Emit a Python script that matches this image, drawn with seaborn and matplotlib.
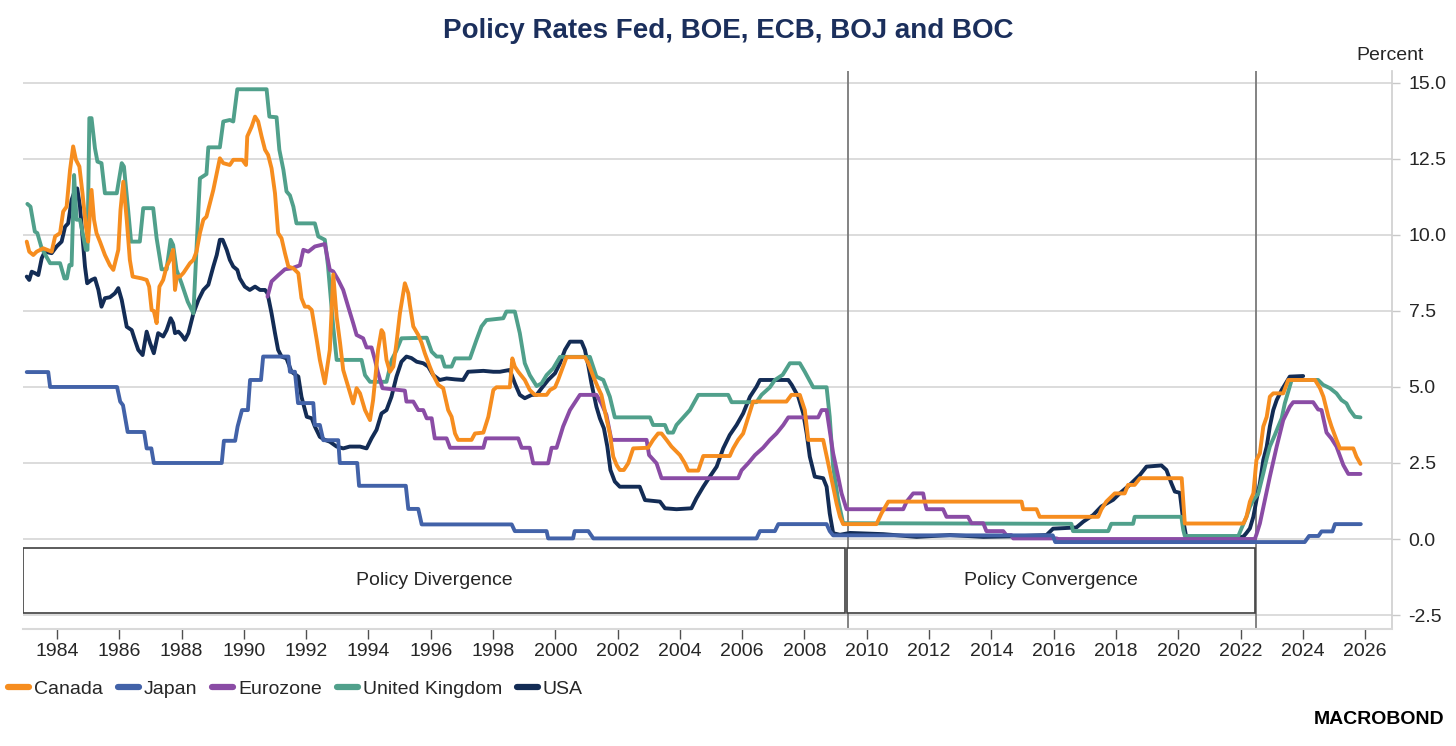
#Policy rates line chart
import numpy as np
import pandas as pd
import matplotlib.pyplot as plt
from matplotlib.patches import Rectangle
from matplotlib.lines import Line2D
import seaborn as sns

# Data
canada_years = [1983.03, 1983.11, 1983.24, 1983.35, 1983.56, 1983.83, 1983.94, 1984.10, 1984.20, 1984.31,
                1984.42, 1984.52, 1984.61, 1984.72, 1984.82, 1984.93, 1985.00, 1985.11, 1985.19, 1985.27,
                1985.38, 1985.54, 1985.70, 1985.81, 1985.97, 1986.04, 1986.13, 1986.24, 1986.34, 1986.43,
                1986.72, 1986.88, 1986.96, 1987.04, 1987.11, 1987.20, 1987.29, 1987.41, 1987.52, 1987.63,
                1987.73, 1987.79, 1987.85, 1987.95, 1988.06, 1988.16, 1988.27, 1988.38, 1988.48, 1988.59,
                1988.70, 1988.80, 1988.91, 1989.02, 1989.13, 1989.23, 1989.34, 1989.55, 1989.66, 1989.95,
                1990.07, 1990.11, 1990.25, 1990.36, 1990.46, 1990.57, 1990.68, 1990.78, 1990.89, 1991.00,
                1991.10, 1991.21, 1991.32, 1991.43, 1991.59, 1991.75, 1991.85, 1991.96, 1992.07, 1992.18,
                1992.34, 1992.44, 1992.60, 1992.76, 1992.87, 1992.98, 1993.09, 1993.19, 1993.35, 1993.51,
                1993.62, 1993.73, 1993.89, 1994.05, 1994.15, 1994.31, 1994.42, 1994.48, 1994.58, 1994.69,
                1994.80, 1994.90, 1995.01, 1995.17, 1995.28, 1995.33, 1995.44, 1995.60, 1995.71, 1995.81,
                1995.97, 1996.08, 1996.24, 1996.40, 1996.56, 1996.67, 1996.78, 1996.88, 1997.31, 1997.42,
                1997.69, 1997.85, 1998.01, 1998.11, 1998.54, 1998.62, 1998.70, 1998.81, 1999.02, 1999.18,
                1999.34, 1999.72, 1999.83, 1999.99, 2000.09, 2000.25, 2000.36, 2000.95, 2001.06, 2001.22,
                2001.38, 2001.48, 2001.64, 2001.75, 2001.86, 2001.97, 2002.07, 2002.20, 2002.34, 2002.50,
                2002.98, 2003.14, 2003.30, 2003.41, 2003.57, 2003.73, 2004.00, 2004.16, 2004.27, 2004.59,
                2004.75, 2005.60, 2005.71, 2005.87, 2006.03, 2006.19, 2006.35, 2007.42, 2007.58, 2007.85,
                2008.01, 2008.12, 2008.60, 2008.76, 2008.92, 2009.03, 2009.14, 2009.24, 2010.31, 2010.47,
                2010.69, 2014.97, 2015.02, 2015.45, 2015.55, 2017.43, 2017.53, 2017.69, 2017.96, 2018.28,
                2018.39, 2018.60, 2018.77, 2020.11, 2020.16, 2020.21, 2022.09, 2022.19, 2022.30, 2022.41,
                2022.51, 2022.62, 2022.73, 2022.84, 2022.94, 2023.05, 2023.37, 2023.53, 2024.39, 2024.55,
                2024.66, 2024.82, 2024.92, 2025.08, 2025.19, 2025.62, 2025.72, 2025.85]
canada_vals = [9.78, 9.45, 9.34, 9.45, 9.56, 9.45, 9.95, 10.06, 10.77, 10.93,
               12.14, 12.91, 12.47, 12.25, 11.37, 10.27, 9.78, 11.48, 10.50, 10.06,
               9.78, 9.34, 9.00, 8.85, 9.51, 10.82, 11.75, 10.50, 9.18, 8.63,
               8.57, 8.52, 8.30, 7.53, 7.50, 7.10, 8.30, 8.52, 8.96, 9.18,
               9.51, 8.19, 8.63, 8.63, 8.75, 8.90, 9.07, 9.18, 9.45, 10.06,
               10.50, 10.60, 11.04, 11.48, 12.03, 12.52, 12.36, 12.30, 12.47, 12.47,
               12.30, 13.24, 13.56, 13.89, 13.73, 13.24, 12.80, 12.63, 12.19, 11.37,
               10.06, 9.89, 9.40, 8.96, 8.90, 8.74, 7.92, 7.64, 7.64, 7.53,
               6.55, 5.89, 5.12, 6.22, 8.70, 7.30, 6.44, 5.56, 5.01, 4.46,
               4.96, 4.79, 4.24, 3.91, 4.57, 6.22, 6.87, 6.77, 5.89, 5.50,
               5.67, 6.44, 7.42, 8.41, 8.08, 7.70, 6.99, 6.71, 6.44, 6.11,
               5.67, 5.39, 5.07, 4.96, 4.24, 4.02, 3.47, 3.26, 3.26, 3.47,
               3.50, 4.02, 4.90, 4.99, 4.99, 5.94, 5.67, 5.50, 5.23, 4.90,
               4.74, 4.74, 4.90, 4.99, 5.23, 5.67, 5.98, 5.98, 5.78, 5.34,
               4.96, 4.74, 3.97, 3.47, 2.71, 2.43, 2.27, 2.27, 2.49, 2.98,
               3.00, 3.26, 3.47, 3.47, 3.26, 3.04, 2.76, 2.49, 2.25, 2.25,
               2.73, 2.73, 2.98, 3.26, 3.47, 4.00, 4.52, 4.52, 4.74, 4.74,
               4.24, 3.26, 3.26, 2.49, 1.72, 1.17, 0.73, 0.49, 0.49, 0.84,
               1.23, 1.23, 0.98, 0.98, 0.73, 0.73, 0.97, 1.23, 1.50, 1.50,
               1.78, 1.78, 2.00, 2.00, 1.28, 0.51, 0.51, 0.73, 1.23, 1.50,
               2.60, 2.82, 3.70, 4.02, 4.68, 4.79, 4.79, 5.23, 5.23, 4.96,
               4.68, 4.02, 3.70, 3.26, 2.98, 2.98, 2.71, 2.47]

japan_years = [1983.03, 1983.72, 1983.78, 1985.93, 1986.03, 1986.12, 1986.27, 1986.80, 1986.88, 1987.03,
               1987.11, 1989.29, 1989.36, 1989.72, 1989.80, 1989.94, 1990.13, 1990.20, 1990.55, 1990.62,
               1991.43, 1991.48, 1991.64, 1991.74, 1992.23, 1992.28, 1992.44, 1992.55, 1993.03, 1993.08,
               1993.64, 1993.70, 1995.20, 1995.28, 1995.60, 1995.71, 1998.60, 1998.70, 1999.72, 1999.77,
               2000.57, 2000.62, 2001.06, 2001.22, 2006.46, 2006.57, 2007.05, 2007.16, 2008.71, 2008.81,
               2008.92, 2015.97, 2016.05, 2024.06, 2024.20, 2024.50, 2024.60, 2024.95, 2025.03, 2025.86]
japan_vals = [5.49, 5.49, 5.00, 5.00, 4.52, 4.40, 3.52, 3.52, 2.98, 2.98,
              2.50, 2.50, 3.23, 3.23, 3.70, 4.24, 4.24, 5.23, 5.23, 6.00,
              6.00, 5.50, 5.50, 4.47, 4.47, 3.75, 3.75, 3.25, 3.25, 2.50,
              2.50, 1.75, 1.75, 0.99, 0.99, 0.48, 0.48, 0.26, 0.26, 0.02,
              0.02, 0.26, 0.26, 0.02, 0.02, 0.26, 0.26, 0.49, 0.49, 0.26,
              0.12, 0.12, -0.10, -0.10, 0.10, 0.10, 0.25, 0.25, 0.49, 0.49]

euro_years = [1990.76, 1990.89, 1991.11, 1991.32, 1991.53, 1991.80, 1991.91, 1992.07, 1992.28, 1992.60,
              1992.76, 1992.87, 1993.03, 1993.19, 1993.35, 1993.51, 1993.62, 1993.83, 1993.94, 1994.10,
              1994.21, 1994.30, 1994.45, 1995.17, 1995.22, 1995.44, 1995.60, 1995.76, 1995.87, 1996.03,
              1996.13, 1996.51, 1996.62, 1997.69, 1997.77, 1998.81, 1998.92, 1999.18, 1999.29, 1999.77,
              1999.88, 2000.04, 2000.25, 2000.47, 2000.79, 2001.32, 2001.48, 2001.64, 2001.80, 2002.93,
              2003.01, 2003.25, 2003.41, 2005.87, 2005.98, 2006.19, 2006.41, 2006.67, 2006.89, 2007.10,
              2007.32, 2007.48, 2008.44, 2008.55, 2008.71, 2008.92, 2009.08, 2009.19, 2009.35, 2011.17,
              2011.28, 2011.49, 2011.81, 2011.86, 2011.92, 2012.45, 2012.56, 2013.25, 2013.36, 2013.74,
              2013.84, 2014.38, 2014.48, 2014.64, 2014.70, 2016.09, 2016.15, 2022.46, 2022.52, 2022.62,
              2022.78, 2022.94, 2023.16, 2023.37, 2023.58, 2023.69, 2024.33, 2024.49, 2024.60, 2024.76,
              2024.92, 2025.08, 2025.30, 2025.46, 2025.85]
euro_vals = [7.97, 8.47, 8.68, 8.87, 8.90, 9.00, 9.51, 9.45, 9.62, 9.70,
             8.85, 8.80, 8.52, 8.19, 7.64, 7.10, 6.71, 6.60, 6.30, 6.30,
             5.89, 5.50, 4.96, 4.88, 4.52, 4.52, 4.24, 4.24, 3.97, 3.97,
             3.31, 3.31, 3.00, 3.00, 3.31, 3.31, 3.00, 3.00, 2.49, 2.49,
             3.00, 3.00, 3.70, 4.24, 4.74, 4.74, 4.46, 4.08, 3.26, 3.26,
             2.76, 2.49, 2.00, 2.00, 2.26, 2.49, 2.76, 3.00, 3.26, 3.47,
             3.75, 4.00, 4.00, 4.24, 4.24, 2.82, 2.05, 1.50, 0.98, 0.98,
             1.23, 1.50, 1.50, 1.23, 0.98, 0.98, 0.73, 0.73, 0.52, 0.52,
             0.26, 0.26, 0.13, 0.13, 0.02, 0.02, 0.00, 0.00, 0.18, 0.51,
             1.28, 2.05, 3.04, 3.91, 4.35, 4.50, 4.50, 4.26, 4.24, 3.50,
             3.30, 3.04, 2.43, 2.14, 2.14]

uk_years = [1983.05, 1983.15, 1983.29, 1983.37, 1983.51, 1983.78, 1984.10, 1984.24, 1984.32, 1984.40,
            1984.47, 1984.55, 1984.63, 1984.74, 1984.93, 1984.98, 1985.04, 1985.11, 1985.22, 1985.30,
            1985.43, 1985.54, 1985.92, 1986.08, 1986.15, 1986.29, 1986.38, 1986.66, 1986.77, 1987.09,
            1987.20, 1987.36, 1987.52, 1987.65, 1987.73, 1987.84, 1988.00, 1988.20, 1988.38, 1988.59,
            1988.80, 1988.86, 1989.23, 1989.34, 1989.55, 1989.66, 1989.79, 1990.73, 1990.82, 1991.05,
            1991.14, 1991.27, 1991.37, 1991.48, 1991.59, 1991.69, 1992.28, 1992.39, 1992.60, 1992.70,
            1992.87, 1992.98, 1993.78, 1993.89, 1994.05, 1994.58, 1994.75, 1994.90, 1995.06, 1995.87,
            1996.03, 1996.19, 1996.35, 1996.45, 1996.67, 1996.78, 1997.26, 1997.47, 1997.63, 1997.79,
            1998.33, 1998.43, 1998.70, 1998.86, 1999.02, 1999.18, 1999.40, 1999.56, 1999.72, 1999.93,
            2000.15, 2001.11, 2001.32, 2001.54, 2001.75, 2001.91, 2003.04, 2003.14, 2003.52, 2003.62,
            2003.78, 2003.89, 2004.11, 2004.32, 2004.59, 2005.55, 2005.66, 2006.46, 2006.62, 2006.89,
            2007.05, 2007.30, 2007.53, 2007.85, 2008.01, 2008.28, 2008.71, 2008.81, 2008.92, 2009.08,
            2009.24, 2016.57, 2016.62, 2017.75, 2017.85, 2018.55, 2018.60, 2020.10, 2020.16, 2020.21,
            2021.93, 2022.03, 2022.19, 2022.30, 2022.41, 2022.57, 2022.73, 2022.84, 2022.94, 2023.10,
            2023.21, 2023.32, 2023.42, 2023.53, 2023.64, 2024.49, 2024.65, 2024.87, 2025.08, 2025.24,
            2025.40, 2025.51, 2025.67, 2025.85]
uk_vals = [11.02, 10.93, 10.11, 10.06, 9.56, 9.07, 9.07, 8.57, 8.57, 9.01,
           9.00, 11.97, 10.50, 10.50, 9.51, 9.51, 13.84, 13.84, 12.85, 12.41,
           12.36, 11.37, 11.37, 12.36, 12.25, 10.77, 9.78, 9.78, 10.88, 10.88,
           9.89, 8.87, 8.87, 9.84, 9.67, 8.85, 8.41, 7.80, 7.42, 11.86,
           12.00, 12.88, 12.88, 13.73, 13.78, 13.73, 14.79, 14.79, 13.89, 13.87,
           12.80, 12.14, 11.43, 11.30, 10.93, 10.38, 10.38, 9.95, 9.84, 9.00,
           6.98, 5.89, 5.89, 5.39, 5.17, 5.17, 5.90, 6.20, 6.60, 6.62,
           6.16, 6.00, 6.00, 5.67, 5.67, 5.94, 5.94, 6.55, 6.99, 7.20,
           7.26, 7.48, 7.48, 6.77, 5.78, 5.39, 5.03, 5.12, 5.39, 5.61,
           5.99, 5.99, 5.34, 5.23, 4.68, 4.00, 4.00, 3.75, 3.75, 3.50,
           3.50, 3.75, 4.00, 4.24, 4.74, 4.74, 4.50, 4.50, 4.74, 4.99,
           5.23, 5.40, 5.78, 5.78, 5.50, 4.99, 4.99, 4.02, 2.38, 1.28,
           0.52, 0.50, 0.26, 0.26, 0.50, 0.50, 0.73, 0.73, 0.30, 0.10,
           0.10, 0.35, 0.73, 1.06, 1.28, 1.50, 2.16, 2.65, 3.04, 3.42,
           3.70, 3.97, 4.46, 4.85, 5.23, 5.23, 5.07, 4.96, 4.79, 4.57,
           4.46, 4.24, 4.02, 4.00]

usa_years = [1983.03, 1983.11, 1983.19, 1983.30, 1983.40, 1983.51, 1983.61, 1983.83, 1983.99, 1984.15,
             1984.26, 1984.36, 1984.47, 1984.58, 1984.65, 1984.74, 1984.82, 1984.90, 1984.97, 1985.11,
             1985.22, 1985.33, 1985.43, 1985.54, 1985.70, 1985.86, 1985.97, 1986.08, 1986.24, 1986.40,
             1986.50, 1986.61, 1986.75, 1986.88, 1986.99, 1987.11, 1987.25, 1987.41, 1987.52, 1987.65,
             1987.73, 1987.79, 1987.90, 1988.00, 1988.11, 1988.22, 1988.38, 1988.54, 1988.70, 1988.86,
             1989.02, 1989.13, 1989.23, 1989.32, 1989.45, 1989.55, 1989.66, 1989.79, 1989.87, 1990.03,
             1990.19, 1990.36, 1990.52, 1990.68, 1990.76, 1990.89, 1991.00, 1991.10, 1991.21, 1991.37,
             1991.53, 1991.75, 1991.85, 1992.02, 1992.18, 1992.28, 1992.44, 1992.60, 1992.76, 1992.98,
             1993.19, 1993.40, 1993.73, 1993.94, 1994.10, 1994.26, 1994.42, 1994.58, 1994.74, 1994.90,
             1995.06, 1995.22, 1995.38, 1995.55, 1995.76, 1995.92, 1996.08, 1996.29, 1996.51, 1996.78,
             1997.04, 1997.20, 1997.69, 1998.01, 1998.22, 1998.54, 1998.70, 1998.86, 1999.02, 1999.24,
             1999.40, 1999.56, 1999.77, 1999.99, 2000.15, 2000.31, 2000.47, 2000.84, 2000.95, 2001.06,
             2001.16, 2001.32, 2001.43, 2001.56, 2001.67, 2001.77, 2001.91, 2002.07, 2002.71, 2002.88,
             2003.36, 2003.52, 2003.89, 2004.37, 2004.53, 2004.75, 2004.96, 2005.18, 2005.39, 2005.60,
             2005.82, 2006.03, 2006.25, 2006.46, 2006.57, 2007.48, 2007.59, 2007.80, 2007.96, 2008.07,
             2008.17, 2008.33, 2008.60, 2008.71, 2008.81, 2008.92, 2009.14, 2009.46, 2010.53, 2011.60,
             2012.67, 2013.74, 2014.81, 2015.77, 2015.98, 2016.73, 2016.95, 2017.27, 2017.53, 2017.91,
             2018.12, 2018.44, 2018.77, 2018.98, 2019.46, 2019.62, 2019.78, 2019.89, 2020.05, 2020.16,
             2020.26, 2021.97, 2022.09, 2022.19, 2022.30, 2022.41, 2022.51, 2022.62, 2022.73, 2022.84,
             2022.94, 2023.05, 2023.16, 2023.32, 2023.42, 2023.58, 2024.01]
usa_vals = [8.63, 8.52, 8.79, 8.74, 8.68, 9.23, 9.45, 9.40, 9.62, 9.78,
            10.27, 10.38, 11.15, 11.48, 11.53, 10.93, 9.95, 8.96, 8.41, 8.52,
            8.57, 8.19, 7.64, 7.92, 7.95, 8.08, 8.25, 7.86, 6.98, 6.87,
            6.55, 6.22, 6.05, 6.82, 6.44, 6.11, 6.77, 6.66, 6.87, 7.26,
            7.10, 6.77, 6.82, 6.71, 6.55, 6.77, 7.42, 7.86, 8.19, 8.36,
            8.96, 9.34, 9.84, 9.84, 9.51, 9.18, 8.96, 8.85, 8.57, 8.30,
            8.19, 8.30, 8.19, 8.19, 8.08, 7.42, 6.77, 6.22, 6.00, 5.94,
            5.50, 5.34, 4.68, 4.02, 3.97, 3.70, 3.36, 3.26, 3.20, 3.04,
            2.98, 3.04, 3.04, 2.98, 3.31, 3.59, 4.13, 4.24, 4.68, 5.34,
            5.83, 6.00, 5.95, 5.83, 5.78, 5.67, 5.39, 5.23, 5.28, 5.25,
            5.23, 5.50, 5.53, 5.50, 5.50, 5.56, 5.12, 4.74, 4.63, 4.74,
            4.74, 4.96, 5.23, 5.45, 5.78, 6.22, 6.49, 6.49, 6.22, 5.70,
            5.12, 4.35, 3.97, 3.64, 3.04, 2.27, 1.89, 1.72, 1.72, 1.28,
            1.23, 1.01, 0.98, 1.01, 1.34, 1.72, 2.05, 2.38, 2.98, 3.42,
            3.75, 4.13, 4.68, 5.01, 5.23, 5.23, 5.07, 4.68, 4.13, 3.47,
            2.71, 2.05, 2.00, 1.72, 0.84, 0.19, 0.14, 0.20, 0.16, 0.07,
            0.13, 0.07, 0.09, 0.13, 0.34, 0.38, 0.57, 0.79, 1.07, 1.29,
            1.50, 1.78, 2.11, 2.38, 2.42, 2.27, 1.83, 1.56, 1.52, 0.60,
            0.04, 0.06, 0.08, 0.20, 0.35, 0.73, 1.28, 1.83, 2.60, 3.04,
            3.70, 4.24, 4.57, 4.90, 5.07, 5.34, 5.36]

series_names = ["Canada", "Japan", "Eurozone", "United Kingdom", "USA"]
series_colors = ["#f68d1f", "#4262a8", "#8a4ca5", "#50a08b", "#132c55"]
series_data = [(canada_years, canada_vals), (japan_years, japan_vals), (euro_years, euro_vals),
               (uk_years, uk_vals), (usa_years, usa_vals)]

period_labels = ["Policy Divergence", "Policy Convergence"]
period_bounds = [(1982.91, 2009.30), (2009.36, 2022.46)]
split_years = [2009.39, 2022.49]

# Style
sns.set_theme(style="white")
plt.rcParams['font.family'] = ['Liberation Sans', 'DejaVu Sans']
plt.rcParams['axes.unicode_minus'] = False

fig = plt.figure(figsize=(14.56, 7.46), dpi=100)
ax = fig.add_axes([0.0158, 0.1568, 0.9402, 0.7480])

# draw USA first so Canada ends on top
for name, color, (yrs, vals) in reversed(list(zip(series_names, series_colors, series_data))):
    df = pd.DataFrame({"year": yrs, "rate": vals})
    sns.lineplot(data=df, x="year", y="rate", color=color, linewidth=2.8,
                 estimator=None, sort=False, ax=ax, legend=False)

# Period split lines and boxes
for xv in split_years:
    ax.axvline(xv, color="#7a7a7a", linewidth=1.3, zorder=1)
for (x0, x1), label in zip(period_bounds, period_labels):
    ax.add_patch(Rectangle((x0, -2.43), x1 - x0, 2.13, facecolor="white",
                           edgecolor="#404040", linewidth=1.2, zorder=4))
    ax.text((x0 + x1) / 2, -1.37, label, ha="center", va="center", fontsize=14,
            color="#262626", zorder=5)

ax.set_xlim(1982.91, 2026.86)
ax.set_ylim(-2.96, 15.39)
ax.set_xticks(np.arange(1984, 2027, 2))
ax.set_yticks(np.arange(-2.5, 15.1, 2.5))
ax.set_yticklabels([f"{v:.1f}" for v in np.arange(-2.5, 15.1, 2.5)])
ax.yaxis.tick_right()
ax.set_xlabel("")
ax.set_ylabel("")
ax.set_axisbelow(True)
ax.yaxis.grid(True, color="#d9d9d9", linewidth=1.3)
ax.xaxis.grid(False)

ax.tick_params(axis="y", which="both", right=True, left=False, length=6, width=1,
               color="#c8c8c8", labelsize=14, labelcolor="#262626", pad=6)
ax.tick_params(axis="x", bottom=True, length=7, width=1, color="#505050",
               labelsize=14, labelcolor="#262626", pad=3)

for side in ["top", "left"]:
    ax.spines[side].set_visible(False)
ax.spines["right"].set_color("#d0d0d0")
ax.spines["bottom"].set_color("#d9d9d9")
ax.spines["bottom"].set_linewidth(1.5)

# Titles and labels
fig.text(0.5, 1 - 31 / 746, "Policy Rates Fed, BOE, ECB, BOJ and BOC", ha="center", va="center",
         fontsize=20, fontweight="bold", color="#1b2f5c")
fig.text(1424 / 1456, 1 - 56 / 746, "Percent", ha="right", va="center", fontsize=14, color="#262626")
fig.text(1444 / 1456, 1 - 719 / 746, "MACROBOND", ha="right", va="center", fontsize=14,
         fontweight="bold", color="black")

# Legend
handles = [Line2D([0], [0], color=c, linewidth=4.5) for c in series_colors]
fig.legend(handles, series_names, loc="center left", bbox_to_anchor=(8 / 1456, 1 - 689 / 746),
           ncol=5, frameon=False, fontsize=14, handlelength=1.1, handletextpad=0.25,
           columnspacing=0.75, borderpad=0, borderaxespad=0, labelcolor="#262626")

plt.savefig("out.png", dpi=100)
